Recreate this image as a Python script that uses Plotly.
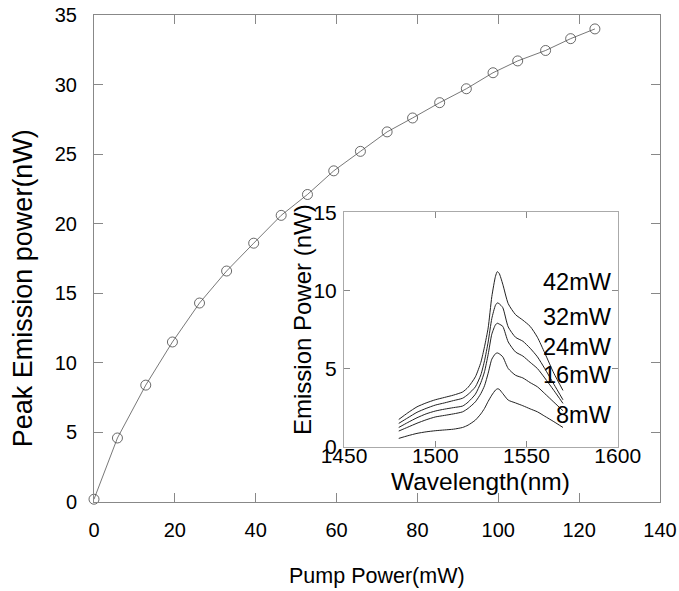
import plotly.graph_objects as go

# Main plot: peak emission vs pump power
pump_mw = [0, 5.8, 12.8, 19.4, 26.1, 32.8, 39.5, 46.3, 52.8, 59.3,
           65.9, 72.5, 78.8, 85.5, 92.1, 98.7, 104.8, 111.7, 117.9, 123.9]
peak_nw = [0.2, 4.6, 8.4, 11.5, 14.3, 16.6, 18.6, 20.6, 22.1, 23.8,
           25.2, 26.6, 27.6, 28.7, 29.7, 30.85, 31.7, 32.45, 33.3, 34.0]

# Inset: emission spectra
wavelength = [1480, 1485, 1490, 1495, 1500, 1505, 1510, 1515, 1518, 1522,
              1525, 1527, 1529, 1531, 1533, 1534, 1535, 1537, 1540, 1544,
              1548, 1552, 1556, 1560, 1565, 1570]
spec_42 = [1.74, 2.17, 2.55, 2.8, 3.0, 3.15, 3.3, 3.5, 3.8, 4.47,
           5.4, 6.4, 7.6, 9.6, 10.9, 11.2, 11.1, 10.4, 9.15, 8.45,
           8.1, 7.7, 7.0, 6.0, 4.7, 3.6]
spec_32 = [1.49, 1.85, 2.2, 2.45, 2.66, 2.8, 2.95, 3.1, 3.35, 3.83,
           4.6, 5.5, 6.7, 8.2, 9.05, 9.2, 9.15, 8.9, 7.66, 7.0,
           6.75, 6.3, 5.75, 5.0, 4.0, 3.0]
spec_24 = [1.23, 1.55, 1.85, 2.1, 2.28, 2.4, 2.5, 2.6, 2.85, 3.36,
           4.1, 4.8, 5.9, 7.2, 7.8, 7.9, 7.85, 7.7, 6.7, 6.06,
           5.8, 5.4, 5.0, 4.4, 3.6, 2.77]
spec_16 = [1.0, 1.25, 1.5, 1.72, 1.9, 2.0, 2.1, 2.23, 2.45, 2.87,
           3.4, 3.9, 4.7, 5.6, 5.95, 6.0, 5.95, 5.75, 5.0, 4.57,
           4.4, 4.1, 3.83, 3.4, 2.85, 2.3]
spec_8 = [0.53, 0.7, 0.85, 0.95, 1.02, 1.07, 1.12, 1.23, 1.38, 1.7,
          2.1, 2.45, 2.9, 3.3, 3.62, 3.7, 3.68, 3.4, 2.98, 2.8,
          2.62, 2.42, 2.23, 1.95, 1.6, 1.23]
spectra = [spec_42, spec_32, spec_24, spec_16, spec_8]
labels = ["42mW", "32mW", "24mW", "16mW", "8mW"]
label_y = [10.53, 8.3, 6.4, 4.57, 2.03]

FONT = "Liberation Sans, Arial, Helvetica, sans-serif"

fig = go.Figure()
fig.add_trace(go.Scatter(
    x=pump_mw, y=peak_nw, mode="lines+markers",
    line=dict(color="#555555", width=0.8),
    marker=dict(symbol="circle-open", size=10, color="#444444",
                line=dict(width=0.8, color="#444444")),
    cliponaxis=False, showlegend=False, xaxis="x", yaxis="y"))

for s in spectra:
    fig.add_trace(go.Scatter(
        x=wavelength, y=s, mode="lines",
        line=dict(color="#222222", width=1, shape="spline", smoothing=0.6),
        showlegend=False, xaxis="x2", yaxis="y2"))

axis_common = dict(showgrid=False, zeroline=False, showline=True,
                   mirror="ticks", ticks="inside", color="#000000",
                   automargin=False)

fig.update_layout(
    width=679, height=591,
    margin=dict(l=94, r=19, t=15, b=89),
    paper_bgcolor="white", plot_bgcolor="white",
    font=dict(family=FONT, color="#000000"),
    xaxis=dict(range=[0, 140], dtick=20, domain=[0, 1],
               linecolor="#888888", tickcolor="#888888", ticklen=9,
               tickfont=dict(size=20), ticklabelstandoff=10,
               **axis_common),
    yaxis=dict(range=[0, 35], dtick=5, domain=[0, 1],
               linecolor="#888888", tickcolor="#888888", ticklen=9,
               tickfont=dict(size=20), ticklabelstandoff=12,
               **axis_common),
    xaxis2=dict(range=[1450, 1600], dtick=50, domain=[0.4417, 0.9253],
                anchor="y2", linecolor="#aaaaaa", tickcolor="#888888", ticklen=6,
                tickfont=dict(size=21), ticklabelstandoff=-10,
                **axis_common),
    yaxis2=dict(range=[0, 15], dtick=5, domain=[0.1136, 0.5949],
                anchor="x2", linecolor="#aaaaaa", tickcolor="#888888", ticklen=6,
                tickfont=dict(size=21), ticklabelstandoff=2,
                **axis_common),
)

# Main axis titles
fig.add_annotation(text="Pump Power(mW)", xref="paper", yref="paper",
                   x=0.5, y=-0.152, xanchor="center", yanchor="middle",
                   showarrow=False, font=dict(size=21.5))
fig.add_annotation(text="Peak Emission power(nW)", xref="paper", yref="paper",
                   x=-0.1254, y=0.439, textangle=-90, xanchor="center",
                   yanchor="middle", showarrow=False, font=dict(size=27))

# Inset axis titles
fig.add_annotation(text="Wavelength(nm)", xref="x2 domain", yref="paper",
                   x=0.5, y=0.0431, yanchor="middle",
                   xanchor="center", showarrow=False, font=dict(size=24.5))
fig.add_annotation(text="Emission Power (nW)", xref="paper", yref="paper",
                   x=0.3675, y=0.3737, textangle=-90,
                   xanchor="center", yanchor="middle", showarrow=False,
                   font=dict(size=24))

for lab, ly in zip(labels, label_y):
    fig.add_annotation(text=lab, x=1598.2, y=ly, xref="x2", yref="y2",
                       xanchor="right", yanchor="middle", showarrow=False,
                       font=dict(size=23.5))

fig.write_html("out.html",
               config={"displayModeBar": False},
               post_script="document.body.style.margin='0px';"
                           "document.body.style.overflow='hidden';")
